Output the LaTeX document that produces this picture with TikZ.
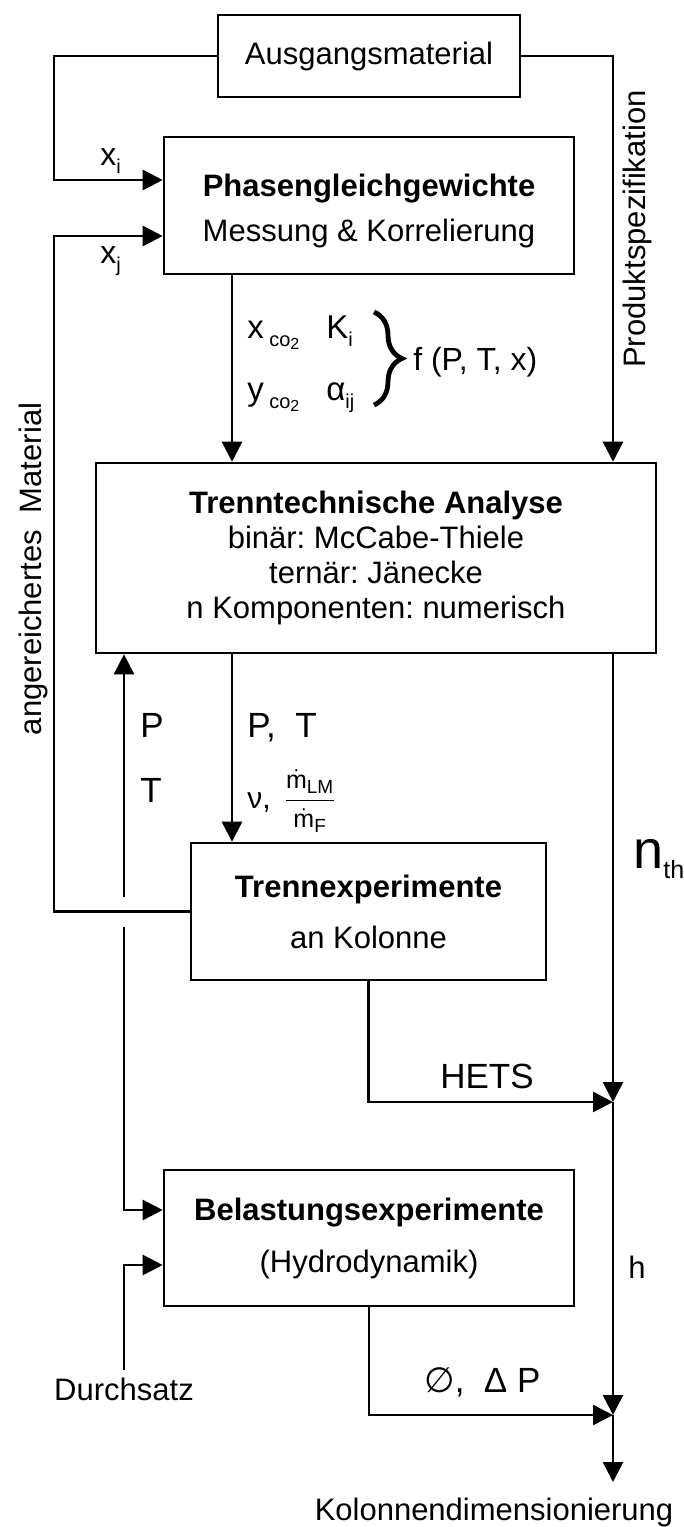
\documentclass[tikz,border=0pt]{standalone}
\usepackage{fontspec}
\usepackage{amsmath}
\setmainfont{Liberation Sans}
\newfontfamily\symbfont{DejaVu Sans}
\usetikzlibrary{arrows.meta,decorations.pathreplacing,calc}
\DeclareMathSizes{15}{15}{12.5}{9.5}
\frenchspacing
\newcommand{\lo}[2][10]{\raisebox{-4pt}{\fontsize{#1}{#1}\selectfont #2}}
\newcommand{\cotwo}{\lo{co\raisebox{-1.5pt}{\fontsize{8}{8}\selectfont 2}}}
\tikzset{%
  every box/.style={
    draw,
    line width=1.3pt,
    align=center,
    inner sep=0pt,
    minimum width=205pt,
    minimum height=68.5pt,
    font=\fontsize{15.5}{26}\selectfont
  },
  small label/.style={
    inner sep=0pt,
    anchor=base west,
    font=\fontsize{15.5}{16}\selectfont
  },
  big label/.style={
    inner sep=0pt,
    anchor=base west,
    font=\fontsize{17.5}{18}\selectfont
  },
  side label/.style={
    rotate=90,
    font=\fontsize{15.5}{16}\selectfont
  },
}

\begin{document}
\begin{tikzpicture}[x=0.5pt, y=-0.5pt, line width=1.3pt, >={Triangle[length=10pt, width=10pt]}]
        \useasboundingbox (0,0) rectangle (684,1527);

        % blocks
        \node [every box, minimum width=151pt, minimum height=41pt] (ausgang) at (369,56) {Ausgangsmaterial};
        \node [every box, font=\fontsize{15.5}{22.5}\selectfont] (phasen) at (369,205.5) {\rule{0pt}{17pt}\textbf{Phasengleichgewichte}\\Messung \& Korrelierung};
        \node [every box, minimum width=280pt, minimum height=95pt, font=\fontsize{15.5}{17.5}\selectfont] (analyse) at (376,558)
          {\textbf{Trenntechnische Analyse}\\binär: McCabe-Thiele\\ternär: Jänecke\\n Komponenten: numerisch};
        \node [every box, minimum width=177.5pt, font=\fontsize{15.5}{25.5}\selectfont] (trennexp) at (368.5,911.5) {\textbf{Trennexperimente}\\an Kolonne};
        \node [every box, minimum height=68pt] (belast) at (369,1238) {\textbf{Belastungsexperimente}\\(Hydrodynamik)};

        \coordinate (xi) at (54,180);
        \coordinate (xj) at (54,236);
        \coordinate (mid) at (232,0);
        \coordinate (ptup) at (124,897);
        \coordinate (ptdown) at (124,927);
        \coordinate (load) at (124,1210);
        \coordinate (flow) at (124,1265);
        \coordinate (hets) at (613,1102);
        \coordinate (dp) at (613,1415);
        \coordinate (out) at (613,1482);

        % texts
        \node [small label, font=\fontsize{16}{16}\selectfont] (xilab) at (99,165) {x\lo{i}};
        \node [small label, font=\fontsize{16}{16}\selectfont] (xjlab) at (99,263) {x\lo{j}};
        \node [side label] (anger) at (33,569) {angereichertes\hspace{0.55em}Material};
        \node [side label] (spez) at (637,229) {Produktspezifikation};
        \node [small label, font=\fontsize{16.5}{16}\selectfont] (xco) at (246,338) {x\,\cotwo};
        \node [small label, font=\fontsize{16.5}{16}\selectfont] (kilab) at (325,338) {K\lo{i}};
        \node [small label, font=\fontsize{16.5}{16}\selectfont] (yco) at (246,400) {y\,\cotwo};
        \node [small label, font=\fontsize{16.5}{16}\selectfont] (alab) at (325,400) {α\lo{ij}};
        \node [small label, font=\fontsize{16}{16}\selectfont] (func) at (412,370) {f (P, T, x)};
        \node [big label] (plab) at (139,737) {P};
        \node [big label] (tlab) at (139,802) {T};
        \node [big label] (ptlab) at (246,737) {P,\ \ T};
        \node [small label, font=\fontsize{15}{16}\selectfont] (nulab) at (246,808)
          {ν,\hspace{6.5pt}$\dfrac{\scriptstyle\dot{\text{m}}_{\text{LM}}}{\scriptstyle\dot{\text{m}}_{\text{F}}}$};
        \node [small label, font=\fontsize{27}{27}\selectfont] (nth) at (632,868) {n\raisebox{-5pt}{\fontsize{12.5}{12.5}\selectfont th}};
        \node [big label] (hetslab) at (439,1088) {HETS};
        \node [small label] (hlab) at (627,1278) {h};
        \node [big label] (dplab) at (423,1392) {{\symbfont ∅},\ \ Δ P};
        \node [font=\fontsize{15.5}{16}\selectfont, anchor=base] (durch) at (124,1400) {Durchsatz};
        \node [font=\fontsize{15.5}{16}\selectfont, anchor=base] (kolonne) at (494,1520) {Kolonnendimensionierung};

        % brace
        \draw [line width=2.4pt, decorate, decoration={brace, amplitude=14pt}] (374,312) -- (374,405);

        % flows
        \draw [->] (ausgang.west) -| (xi) -- (xi -| phasen.west);
        \draw [->] (ausgang.east) -| (hets |- analyse.north);
        \draw [->] (mid |- phasen.south) -- (mid |- analyse.north);
        \draw [->] (mid |- analyse.south) -- (mid |- trennexp.north);
        \draw [->] (ptup) -- (ptup |- analyse.south);
        \draw [->] (trennexp.west) -| (xj) -- (xj -| phasen.west);
        \draw [->] (ptdown) -- (load) -- (load -| belast.west);
        \draw [->] (durch.north) |- (flow -| belast.west);
        \draw [->] (trennexp.south) |- (hets);
        \draw [->] (hets |- analyse.south) -- (hets);
        \draw [->] (belast.south) |- (dp);
        \draw [->] (hets) -- (dp);
        \draw [->] (dp) -- (out);
\end{tikzpicture}
\end{document}
